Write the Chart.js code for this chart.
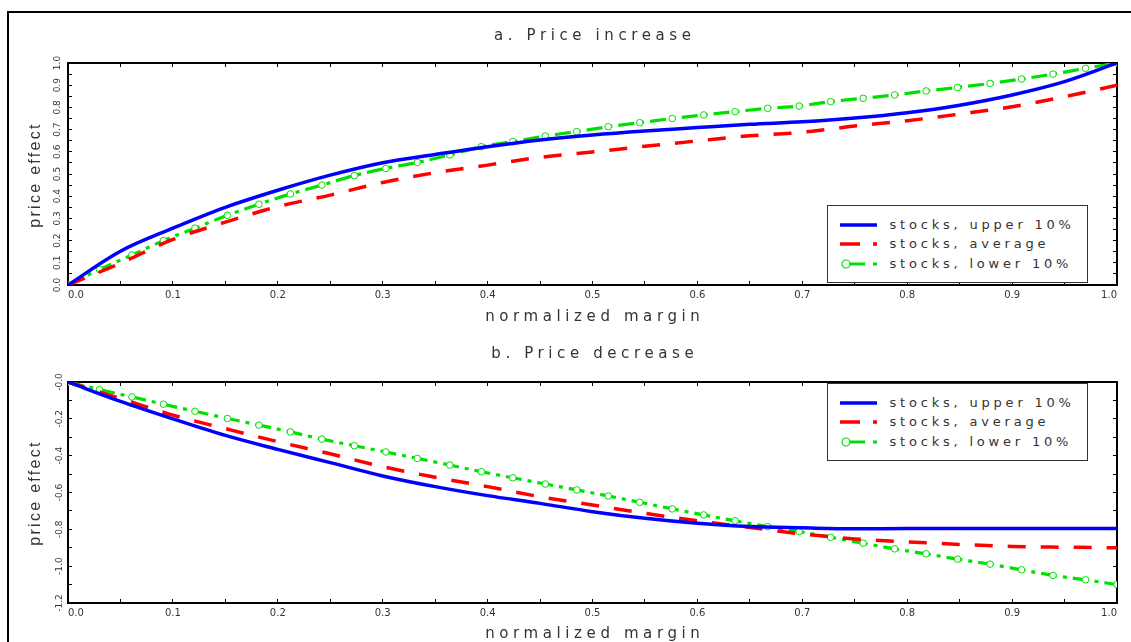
<!DOCTYPE html>
<html>
<head>
<meta charset="utf-8">
<script src="https://cdn.jsdelivr.net/npm/chart.js@4.4.1/dist/chart.umd.min.js"></script>
<style>
  body { margin: 0; background: #fff; width: 1131px; height: 642px; overflow: hidden; position: relative;
         font-family: "DejaVu Sans", sans-serif; color: #333; }
  .frame { position: absolute; left: 7px; top: 11px; width: 1300px; height: 800px; border: 2px solid #000; }
  .box { position: absolute; left: 0; width: 1131px; }
  .title { position: absolute; left: 68px; width: 1049px; text-align: center; font-size: 15px; line-height: 20px;
           letter-spacing: 4.6px; text-indent: 4.6px; white-space: nowrap; }
  .ytitle { position: absolute; font-family: "Liberation Sans", sans-serif; font-size: 16px; line-height: 16px;
            letter-spacing: 2.3px; transform: translate(-50%, -50%) rotate(-90deg); white-space: nowrap; }
  .legend { position: absolute; left: 827px; width: 261px; height: 78px; box-sizing: border-box;
            border: 1.5px solid #333; background: #fff; }
  .legend .row { position: absolute; left: 0; width: 100%; height: 20px; }
  .legend svg { position: absolute; left: 11.5px; top: 4px; }
  .legend span { position: absolute; left: 61.5px; top: 0; font-size: 13px; line-height: 20px;
                 letter-spacing: 3.8px; white-space: nowrap; }
</style>
</head>
<body>
<div class="frame"></div>
<div class="box" style="top:0;height:330px"><canvas id="incChart"></canvas></div>
<div class="box" style="top:330px;height:312px"><canvas id="decChart"></canvas></div>
<div class="title" style="top:25px">a. Price increase</div>
<div class="title" style="top:306px">normalized margin</div>
<div class="title" style="top:343px">b. Price decrease</div>
<div class="title" style="top:623px">normalized margin</div>
<div class="ytitle" style="left:35px;top:175px">price effect</div>
<div class="ytitle" style="left:35px;top:493px">price effect</div>
<div class="legend" id="legInc" style="top:205px"></div>
<div class="legend" id="legDec" style="top:383px"></div>

<script>
// normalized margin grid for the solid / dashed curves
const xGrid = [0, 0.05, 0.1, 0.15, 0.2, 0.25, 0.3, 0.35, 0.4, 0.45, 0.5,
               0.55, 0.6, 0.65, 0.7, 0.75, 0.8, 0.85, 0.9, 0.95, 1.0];
// the lower 10% curve is plotted at its circle markers
const xMarks = [0, 0.03, 0.061, 0.091, 0.121, 0.152, 0.182, 0.212, 0.242, 0.273, 0.303, 0.333,
                0.364, 0.394, 0.424, 0.455, 0.485, 0.515, 0.545, 0.576, 0.606, 0.636, 0.667,
                0.697, 0.727, 0.758, 0.788, 0.818, 0.848, 0.879, 0.909, 0.939, 0.97, 1.0];

const seriesNames = ['stocks, upper 10%', 'stocks, average', 'stocks, lower 10%'];

// a. price increase
const upperIncrease = [0, 0.152, 0.256, 0.35, 0.427, 0.495, 0.551, 0.588, 0.623, 0.653, 0.676,
                       0.694, 0.709, 0.724, 0.735, 0.752, 0.776, 0.81, 0.856, 0.916, 1.0];
const averageIncrease = [0, 0.098, 0.205, 0.283, 0.353, 0.405, 0.462, 0.506, 0.54, 0.575, 0.599,
                         0.625, 0.649, 0.672, 0.688, 0.716, 0.74, 0.77, 0.803, 0.848, 0.9];
const lowerIncrease = [0, 0.07, 0.135, 0.2, 0.256, 0.314, 0.364, 0.41, 0.45, 0.493, 0.525, 0.552,
                       0.586, 0.623, 0.646, 0.671, 0.691, 0.713, 0.731, 0.75, 0.766, 0.781, 0.796,
                       0.806, 0.826, 0.841, 0.856, 0.874, 0.89, 0.908, 0.928, 0.95, 0.976, 1.0];

// b. price decrease
const upperDecrease = [0, -0.105, -0.2, -0.29, -0.366, -0.438, -0.51, -0.568, -0.617, -0.659, -0.704,
                       -0.74, -0.767, -0.785, -0.792, -0.797, -0.796, -0.796, -0.796, -0.796, -0.796];
const averageDecrease = [0, -0.09, -0.18, -0.253, -0.324, -0.39, -0.46, -0.517, -0.568, -0.623, -0.668,
                         -0.713, -0.754, -0.79, -0.825, -0.852, -0.868, -0.882, -0.893, -0.897, -0.9];
const lowerDecrease = [0, -0.041, -0.081, -0.121, -0.159, -0.198, -0.234, -0.271, -0.31, -0.346, -0.38,
                       -0.415, -0.451, -0.487, -0.52, -0.554, -0.586, -0.619, -0.653, -0.689, -0.722,
                       -0.754, -0.785, -0.812, -0.843, -0.875, -0.906, -0.933, -0.962, -0.989, -1.02,
                       -1.05, -1.074, -1.1];

// tick labels
const marginTicks = ['0.0', '0.1', '0.2', '0.3', '0.4', '0.5', '0.6', '0.7', '0.8', '0.9', '1.0'];
const increaseTicks = ['0.0', '0.1', '0.2', '0.3', '0.4', '0.5', '0.6', '0.7', '0.8', '0.9', '1.0'];
const decreaseTicks = ['-0.0', '-0.2', '-0.4', '-0.6', '-0.8', '-1.0', '-1.2'];

const BLUE = '#0000ff', RED = '#ff0000', GREEN = '#00e000';
const tickFont = { family: 'DejaVu Sans', size: 10 };
const yTickFont = { family: 'DejaVu Sans', size: 9 };

const styles = [
    { borderColor: BLUE, borderWidth: 3.5, pointRadius: 0 },
    { borderColor: RED, borderWidth: 3.5, borderDash: [18, 15], pointRadius: 0 },
    { borderColor: GREEN, borderWidth: 3.2, borderDash: [16, 6, 4, 6], pointRadius: 3.3,
      pointBorderWidth: 1, pointBorderColor: GREEN, pointBackgroundColor: '#fff' }
];

function pts(xs, ys) {
    return xs.map((x, i) => ({ x: x, y: ys[i] }));
}

function axis(position, size, opts) {
    return Object.assign({
        type: 'linear',
        position: position,
        border: { display: true, color: '#000', width: 2 },
        grid: { drawOnChartArea: false, drawTicks: true, tickLength: -4, color: '#000', lineWidth: 1 },
        afterFit: function (s) {
            if (s.isHorizontal()) s.height = size; else s.width = size;
        }
    }, opts);
}

function marginLabel(v) {
    const k = Math.round(v * 20);
    return k % 2 === 0 ? marginTicks[k / 2] : '';
}

function makeChart(id, series, y, dims) {
    const datasets = series.map((ys, i) => Object.assign({
        label: seriesNames[i],
        data: pts(i === 2 ? xMarks : xGrid, ys),
        xAxisID: 'x',
        yAxisID: 'y',
        cubicInterpolationMode: 'monotone'
    }, styles[i]));

    return new Chart(document.getElementById(id), {
        type: 'line',
        data: { datasets: datasets },
        options: {
            responsive: true,
            maintainAspectRatio: false,
            animation: false,
            events: [],
            layout: { padding: 0, autoPadding: false },
            plugins: { legend: { display: false }, tooltip: { enabled: false }, title: { display: false } },
            scales: {
                x: axis('bottom', dims.bottom, {
                    min: 0, max: 1,
                    ticks: { stepSize: 0.05, autoSkip: false, maxRotation: 0, align: 'inner', padding: 8,
                             font: tickFont, color: '#333', callback: marginLabel }
                }),
                xTop: axis('top', dims.top, { min: 0, max: 1, ticks: { stepSize: 0.05, display: false } }),
                y: axis('left', 68, {
                    min: y.min, max: y.max,
                    ticks: { stepSize: y.step, autoSkip: false, minRotation: 90, maxRotation: 90,
                             crossAlign: 'center', padding: y.pad, font: yTickFont, color: '#333',
                             callback: y.label }
                }),
                yRight: axis('right', 14, { min: y.min, max: y.max, ticks: { stepSize: y.step, display: false } })
            }
        }
    });
}

makeChart('incChart', [upperIncrease, averageIncrease, lowerIncrease], {
    min: 0, max: 1, step: 0.05, pad: 7,
    label: v => { const k = Math.round(v * 20); return k % 2 === 0 ? increaseTicks[k / 2] : ''; }
}, { top: 63, bottom: 45 });

makeChart('decChart', [upperDecrease, averageDecrease, lowerDecrease], {
    min: -1.2, max: 0, step: 0.1, pad: 4,
    label: v => { const k = Math.round(-v * 10); return k % 2 === 0 ? decreaseTicks[k / 2] : ''; }
}, { top: 52, bottom: 39 });

// legend: line samples in svg, names as text
const samples = [
    '<line x1="0" y1="6" x2="37" y2="6" stroke="' + BLUE + '" stroke-width="3.5"/>',
    '<line x1="0" y1="6" x2="37" y2="6" stroke="' + RED + '" stroke-width="3.5" stroke-dasharray="20 13"/>',
    '<line x1="6" y1="6" x2="37" y2="6" stroke="' + GREEN + '" stroke-width="3" stroke-dasharray="19 8 4"/>' +
    '<circle cx="6" cy="6" r="4" fill="#fff" stroke="' + GREEN + '" stroke-width="1.2"/>'
];

function buildLegend(id) {
    const el = document.getElementById(id);
    seriesNames.forEach((name, i) => {
        const row = document.createElement('div');
        row.className = 'row';
        row.style.top = (8.5 + 19.7 * i) + 'px';
        row.innerHTML = '<svg width="40" height="12">' + samples[i] + '</svg><span>' + name + '</span>';
        el.appendChild(row);
    });
}

buildLegend('legInc');
buildLegend('legDec');
</script>
</body>
</html>
